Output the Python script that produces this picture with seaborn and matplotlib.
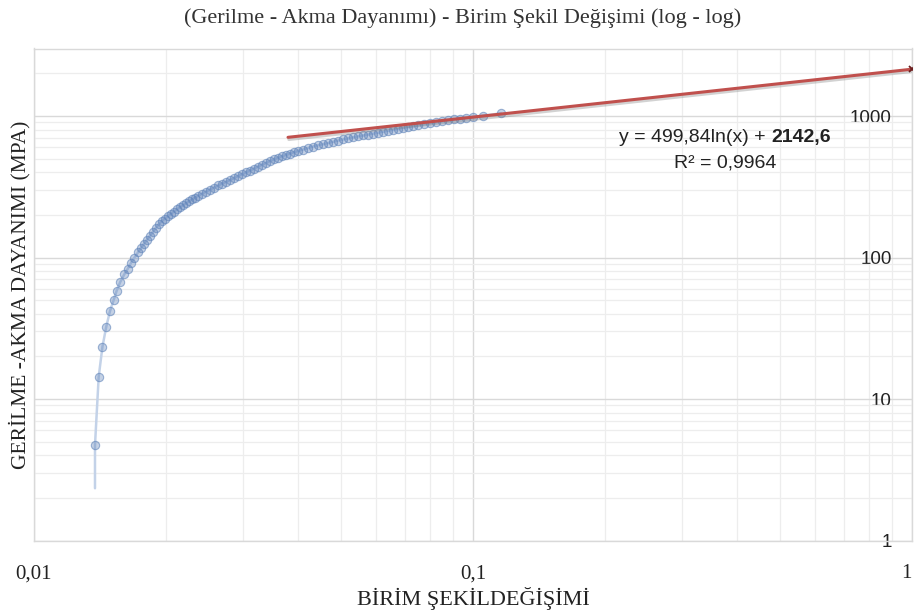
import matplotlib
matplotlib.use("Agg")
import matplotlib.pyplot as plt
import matplotlib.patheffects as pe
from matplotlib.transforms import IdentityTransform
from matplotlib.ticker import LogLocator, NullFormatter
import seaborn as sns

# ---- data ----
strain = [0.01377, 0.01377, 0.01404, 0.01432, 0.01461, 0.01490, 0.01519, 0.01543,
          0.01572, 0.01606, 0.01637, 0.01663, 0.01694, 0.01725, 0.01753, 0.01781,
          0.01809, 0.01838, 0.01867, 0.01896, 0.01927, 0.01957, 0.01988, 0.02020,
          0.02052, 0.02084, 0.02117, 0.02151, 0.02185, 0.02219, 0.02255, 0.02291,
          0.02327, 0.02364, 0.02414, 0.02465, 0.02517, 0.02571, 0.02625, 0.02681,
          0.02738, 0.02796, 0.02855, 0.02915, 0.02977, 0.03040, 0.03105, 0.03171,
          0.03238, 0.03306, 0.03376, 0.03448, 0.03521, 0.03596, 0.03672, 0.03750,
          0.03830, 0.03911, 0.03994, 0.04100, 0.04209, 0.04320, 0.04435, 0.04554,
          0.04675, 0.04798, 0.04926, 0.05057, 0.05191, 0.05329, 0.05471, 0.05616,
          0.05765, 0.05919, 0.06076, 0.06237, 0.06403, 0.06573, 0.06748, 0.06927,
          0.07111, 0.07300, 0.07495, 0.07734, 0.07981, 0.08236, 0.08499, 0.08771,
          0.09051, 0.09342, 0.09640, 0.1000, 0.1054, 0.1158]
stress = [2.34, 4.73, 14.38, 23.42, 32.5, 41.9, 50.1, 58.3,
          67.1, 76.1, 83.6, 91.4, 100.0, 108.5, 117.1, 125.4,
          133.8, 142.9, 152.4, 162.4, 173.1, 181.4, 188.6, 196.2,
          203.8, 211.4, 219.3, 227.5, 234.8, 242.3, 250.1, 257.6,
          265.0, 272.4, 282.9, 292.7, 302.4, 312.4, 322.8, 332.9,
          342.8, 352.9, 364.6, 376.4, 387.9, 399.8, 412.0, 425.6,
          439.7, 453.4, 466.9, 480.8, 493.5, 506.5, 519.0, 531.0,
          543.3, 554.9, 565.7, 579.7, 593.7, 608.0, 620.4, 632.0,
          643.9, 657.4, 671.1, 683.3, 694.5, 705.8, 717.5, 728.6,
          740.0, 751.0, 762.1, 774.1, 786.4, 798.6, 811.0, 822.8,
          834.7, 846.7, 858.9, 873.3, 887.5, 901.9, 916.2, 930.7,
          945.2, 960.1, 973.2, 988.6, 1004.9, 1044.9]

trend_x = [0.0379, 1.0]
trend_y = [707.0, 2142.6]

x_ticks = [0.01, 0.1, 1]
x_tick_labels = ["0,01", "0,1", "1"]
y_ticks = [1, 10, 100, 1000]
y_tick_labels = ["1", "10", "100", "1000"]

title = "(Gerilme - Akma Dayanımı) - Birim Şekil Değişimi (log - log)"
x_label = "BİRİM ŞEKİLDEĞİŞİMİ"
y_label = "GERİLME -AKMA DAYANIMI (MPA)"
eq_text = "y = 499,84ln(x) + "
eq_bold = "2142,6"
r2_text = "R² = 0,9964"

# ---- style ----
sns.set_style("white")
plt.rcParams['font.family'] = ['Liberation Serif', 'DejaVu Serif']
SANS = ['Liberation Sans', 'DejaVu Sans']

W, H = 914, 616
fig = plt.figure(figsize=(W / 100, H / 100), dpi=100)
left, right, top, bottom = 34, 912, 48.5, 540.5
ax = fig.add_axes([left / W, 1 - bottom / H, (right - left) / W, (bottom - top) / H])
ax.set_xscale('log')
ax.set_yscale('log')

# smooth connecting line (light blue) and markers
sns.lineplot(x=strain, y=stress, sort=False, estimator=None, ax=ax,
             color='#c3d2e8', linewidth=1.8, zorder=2)
sns.scatterplot(x=strain[1:], y=stress[1:], ax=ax, s=36,
                facecolor=(0.36, 0.50, 0.72, 0.36),
                edgecolor=(0.38, 0.52, 0.73, 0.6), linewidth=0.8, zorder=3)

# trend line
sns.lineplot(x=trend_x, y=trend_y, sort=False, estimator=None, ax=ax,
             color='#c0504d', linewidth=2.2, zorder=4,
             path_effects=[pe.SimpleLineShadow(offset=(0.6, -1.6), shadow_color='#808080', alpha=0.35),
                           pe.Normal()])
ax.plot([trend_x[-1]], [trend_y[-1]], marker='x', color='#6b2020', markersize=4.5,
        markeredgewidth=1.3, zorder=5, clip_on=True)

ax.set_xlim(0.01, 1)
ax.set_ylim(1, 3000)

# grid
ax.xaxis.set_minor_locator(LogLocator(base=10, subs=range(2, 10)))
ax.yaxis.set_minor_locator(LogLocator(base=10, subs=range(2, 10)))
ax.xaxis.set_minor_formatter(NullFormatter())
ax.yaxis.set_minor_formatter(NullFormatter())
ax.grid(which='major', color='#d9d9d9', linewidth=1.0)
ax.grid(which='minor', color='#ededed', linewidth=0.9)
ax.set_axisbelow(True)
for sp in ax.spines.values():
    sp.set_color('#d9d9d9')
    sp.set_linewidth(1.0)

# x ticks
ax.set_xticks(x_ticks, x_tick_labels)
ax.tick_params(axis='x', which='both', length=0, pad=17, labelsize=15, colors='#222222')
ax.get_xticklabels()[-1].set_ha('right')

# y ticks, drawn inside the plot near the right edge
ax.yaxis.tick_right()
ax.set_yticks(y_ticks, y_tick_labels)
ax.tick_params(axis='y', which='both', length=0, pad=-14.5, labelsize=13.5, colors='#222222')
for t in ax.get_yticklabels():
    t.set_ha('right')
    t.set_fontfamily(SANS)

# axis labels
ax.set_xlabel(x_label, fontsize=16, color='#222222')
ax.xaxis.set_label_coords(0.5, (bottom - 587) / (bottom - top))
ax.set_ylabel(y_label, fontsize=15.5, color='#222222')
ax.yaxis.set_label_position('left')
ax.yaxis.label.set_va('center')
ax.yaxis.label.set_rotation_mode('anchor')
ax.yaxis.set_label_coords((20 - left) / (right - left), 0.5)

# title
fig.text(463 / W, 1 - 18 / H, title, ha='center', va='center', fontsize=16, color='#333333')

# equation label (normal + bold part), centred at x=725 px
t1 = fig.text(0, H - 142, eq_text, transform=IdentityTransform(), ha='left', va='baseline',
              fontsize=14, family=SANS, color='#222222')
t2 = fig.text(0, H - 142, eq_bold, transform=IdentityTransform(), ha='left', va='baseline',
              fontsize=14, fontweight='bold', family=SANS, color='#222222')
fig.text(725, H - 168, r2_text, transform=IdentityTransform(), ha='center', va='baseline',
         fontsize=14, family=SANS, color='#222222')
fig.canvas.draw()
r = fig.canvas.get_renderer()
w1 = t1.get_window_extent(r).width
w2 = t2.get_window_extent(r).width
x0 = 725 - (w1 + w2) / 2
t1.set_x(x0)
t2.set_x(x0 + w1)

fig.savefig("out.png", dpi=100)
